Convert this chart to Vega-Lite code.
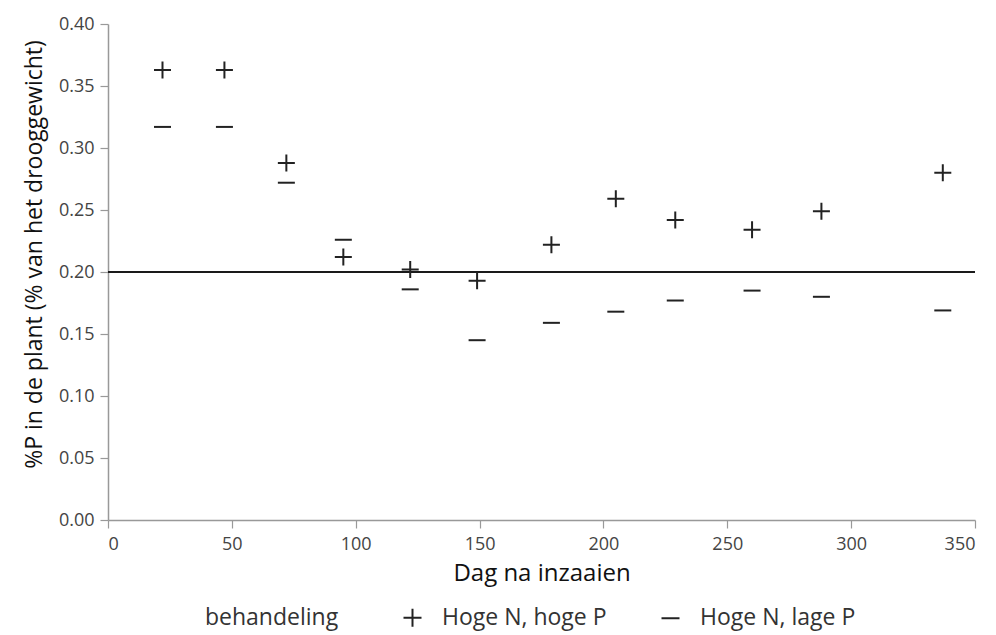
{
  "$schema": "https://vega.github.io/schema/vega-lite/v6.json",
  "width": 867,
  "height": 496,
  "autosize": "none",
  "padding": {"left": 108, "top": 24, "right": 21, "bottom": 115},
  "background": "white",
  "config": {
    "view": {"stroke": null},
    "font": "Open Sans",
    "axis": {
      "grid": false,
      "domainColor": "#999999",
      "domainWidth": 1.5,
      "tickColor": "#999999",
      "tickWidth": 1.2,
      "labelColor": "#444444",
      "labelFontSize": 18,
      "titleFontSize": 23,
      "titleFontWeight": "normal",
      "titleColor": "#111111",
      "tickSize": 8
    }
  },
  "data": {
    "values": [
      {"dag": 22, "p": 0.363, "behandeling": "Hoge N, hoge P"},
      {"dag": 47, "p": 0.363, "behandeling": "Hoge N, hoge P"},
      {"dag": 72, "p": 0.288, "behandeling": "Hoge N, hoge P"},
      {"dag": 95, "p": 0.212, "behandeling": "Hoge N, hoge P"},
      {"dag": 122, "p": 0.202, "behandeling": "Hoge N, hoge P"},
      {"dag": 149, "p": 0.193, "behandeling": "Hoge N, hoge P"},
      {"dag": 179, "p": 0.222, "behandeling": "Hoge N, hoge P"},
      {"dag": 205, "p": 0.259, "behandeling": "Hoge N, hoge P"},
      {"dag": 229, "p": 0.242, "behandeling": "Hoge N, hoge P"},
      {"dag": 260, "p": 0.234, "behandeling": "Hoge N, hoge P"},
      {"dag": 288, "p": 0.249, "behandeling": "Hoge N, hoge P"},
      {"dag": 337, "p": 0.280, "behandeling": "Hoge N, hoge P"},
      {"dag": 22, "p": 0.317, "behandeling": "Hoge N, lage P"},
      {"dag": 47, "p": 0.317, "behandeling": "Hoge N, lage P"},
      {"dag": 72, "p": 0.272, "behandeling": "Hoge N, lage P"},
      {"dag": 95, "p": 0.226, "behandeling": "Hoge N, lage P"},
      {"dag": 122, "p": 0.186, "behandeling": "Hoge N, lage P"},
      {"dag": 149, "p": 0.145, "behandeling": "Hoge N, lage P"},
      {"dag": 179, "p": 0.159, "behandeling": "Hoge N, lage P"},
      {"dag": 205, "p": 0.168, "behandeling": "Hoge N, lage P"},
      {"dag": 229, "p": 0.177, "behandeling": "Hoge N, lage P"},
      {"dag": 260, "p": 0.185, "behandeling": "Hoge N, lage P"},
      {"dag": 288, "p": 0.180, "behandeling": "Hoge N, lage P"},
      {"dag": 337, "p": 0.169, "behandeling": "Hoge N, lage P"}
    ]
  },
  "layer": [
    {
      "mark": {"type": "rule", "color": "#1a1a1a", "strokeWidth": 2},
      "encoding": {"y": {"datum": 0.2, "type": "quantitative"}}
    },
    {
      "mark": {"type": "point", "filled": false, "strokeWidth": 2, "size": 289, "opacity": 1},
      "encoding": {
        "x": {
          "field": "dag", "type": "quantitative",
          "scale": {"domain": [0, 350], "nice": false, "zero": true},
          "axis": {"values": [0, 50, 100, 150, 200, 250, 300, 350], "title": "Dag na inzaaien", "titlePadding": 8, "labelPadding": 7, "titleFontSize": 24}
        },
        "y": {
          "field": "p", "type": "quantitative",
          "scale": {"domain": [0, 0.4], "nice": false},
          "axis": {"values": [0, 0.05, 0.1, 0.15, 0.2, 0.25, 0.3, 0.35, 0.4], "format": ".2f", "title": "%P in de plant (% van het drooggewicht)", "titlePadding": 12, "labelPadding": 6, "titleY": 230}
        },
        "shape": {
          "field": "behandeling", "type": "nominal",
          "scale": {"domain": ["Hoge N, hoge P", "Hoge N, lage P"], "range": ["M-1,0H1M0,-1V1", "M-1,0H1"]},
          "legend": {
            "orient": "none",
            "legendX": 97,
            "legendY": 582,
            "direction": "horizontal",
            "titleOrient": "left",
            "title": "behandeling",
            "titleFontSize": 23,
            "titleFontWeight": "normal",
            "titleColor": "#333333",
            "labelFontSize": 23,
            "labelColor": "#333333",
            "labelLimit": 400,
            "symbolSize": 324,
            "symbolStrokeWidth": 2,
            "symbolStrokeColor": "#222222",
            "labelOffset": 18,
            "columnPadding": 50,
            "titlePadding": 62
          }
        },
        "color": {"value": "#222222"}
      }
    }
  ]
}
